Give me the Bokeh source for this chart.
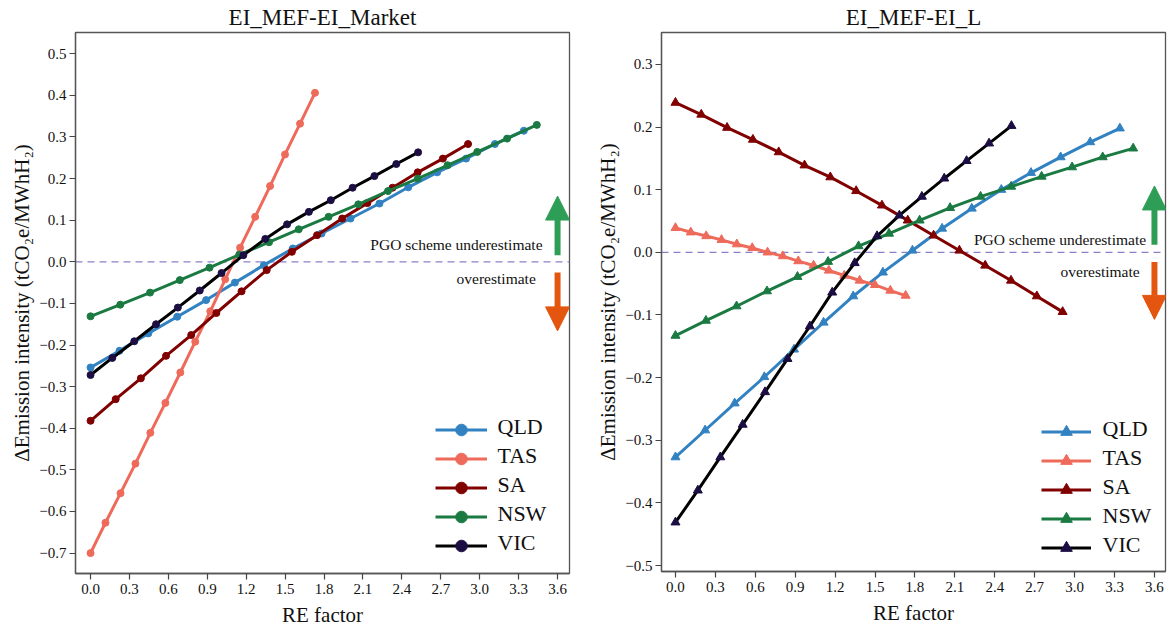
from bokeh.plotting import figure
from bokeh.layouts import row
from bokeh.models import (Range1d, FixedTicker, CustomJSTickFormatter, Span, Label, Title,
                          Arrow, NormalHead, Legend, LegendItem)
from bokeh.embed import file_html
from bokeh.resources import INLINE

FONT = "'Liberation Serif', 'Times New Roman', serif"

# ---------------- data ----------------
series = ["QLD", "TAS", "SA", "NSW", "VIC"]

x_QLD = [0.0, 0.223, 0.445, 0.668, 0.891, 1.113, 1.336, 1.559, 1.781, 2.004, 2.227, 2.449, 2.672, 2.895, 3.117, 3.34]
x_TAS = [0.0, 0.115, 0.231, 0.346, 0.461, 0.577, 0.692, 0.807, 0.923, 1.038, 1.153, 1.269, 1.384, 1.499, 1.615, 1.73]
x_SA = [0.0, 0.194, 0.388, 0.582, 0.776, 0.970, 1.164, 1.358, 1.552, 1.746, 1.940, 2.134, 2.328, 2.522, 2.716, 2.91]
x_NSW = [0.0, 0.229, 0.459, 0.688, 0.917, 1.147, 1.376, 1.605, 1.835, 2.064, 2.293, 2.523, 2.752, 2.981, 3.211, 3.44]
x_VIC = [0.0, 0.168, 0.337, 0.505, 0.673, 0.842, 1.010, 1.178, 1.347, 1.515, 1.683, 1.852, 2.020, 2.188, 2.357, 2.525]

# EI_MEF - EI_Market
mk_QLD = [-0.254, -0.214, -0.172, -0.132, -0.092, -0.050, -0.008, 0.032, 0.068, 0.104, 0.140, 0.179, 0.215, 0.248, 0.283, 0.315]
mk_TAS = [-0.700, -0.627, -0.556, -0.485, -0.411, -0.339, -0.266, -0.192, -0.119, -0.042, 0.034, 0.108, 0.182, 0.258, 0.332, 0.406]
mk_SA = [-0.382, -0.330, -0.280, -0.226, -0.176, -0.123, -0.071, -0.020, 0.024, 0.064, 0.104, 0.141, 0.178, 0.215, 0.248, 0.283]
mk_NSW = [-0.131, -0.103, -0.074, -0.044, -0.014, 0.017, 0.047, 0.078, 0.108, 0.138, 0.170, 0.200, 0.232, 0.264, 0.296, 0.329]
mk_VIC = [-0.272, -0.231, -0.191, -0.150, -0.110, -0.069, -0.027, 0.016, 0.055, 0.090, 0.120, 0.148, 0.178, 0.206, 0.235, 0.263]

# EI_MEF - EI_L
L_QLD = [-0.327, -0.284, -0.241, -0.199, -0.155, -0.112, -0.070, -0.032, 0.003, 0.038, 0.070, 0.100, 0.127, 0.152, 0.176, 0.198]
L_TAS = [0.039, 0.032, 0.026, 0.020, 0.013, 0.007, 0.000, -0.006, -0.014, -0.021, -0.029, -0.037, -0.045, -0.052, -0.061, -0.069]
L_SA = [0.239, 0.220, 0.199, 0.180, 0.160, 0.139, 0.120, 0.098, 0.075, 0.051, 0.027, 0.003, -0.021, -0.045, -0.070, -0.095]
L_NSW = [-0.133, -0.109, -0.086, -0.062, -0.039, -0.015, 0.010, 0.030, 0.051, 0.071, 0.089, 0.105, 0.121, 0.136, 0.152, 0.166]
L_VIC = [-0.431, -0.380, -0.327, -0.275, -0.223, -0.170, -0.118, -0.064, -0.017, 0.026, 0.059, 0.089, 0.118, 0.146, 0.174, 0.202]

x_ticks = [0.0, 0.3, 0.6, 0.9, 1.2, 1.5, 1.8, 2.1, 2.4, 2.7, 3.0, 3.3, 3.6]
y_ticks_market = [-0.7, -0.6, -0.5, -0.4, -0.3, -0.2, -0.1, 0.0, 0.1, 0.2, 0.3, 0.4, 0.5]
y_ticks_L = [-0.5, -0.4, -0.3, -0.2, -0.1, 0.0, 0.1, 0.2, 0.3]

titles = ["EI_MEF-EI_Market", "EI_MEF-EI_L"]
x_label = "RE factor"
y_label = "\u0394Emission intensity (tCO\u2082e/MWhH\u2082)"
note_up = "PGO scheme underestimate"
note_down = "overestimate"

xs = {"QLD": x_QLD, "TAS": x_TAS, "SA": x_SA, "NSW": x_NSW, "VIC": x_VIC}
ys_market = {"QLD": mk_QLD, "TAS": mk_TAS, "SA": mk_SA, "NSW": mk_NSW, "VIC": mk_VIC}
ys_L = {"QLD": L_QLD, "TAS": L_TAS, "SA": L_SA, "NSW": L_NSW, "VIC": L_VIC}

line_colors = {"QLD": "#3282c2", "TAS": "#ee6a5a", "SA": "#800000", "NSW": "#1a7a42", "VIC": "#000000"}
marker_colors = {"QLD": "#3282c2", "TAS": "#ee6a5a", "SA": "#800000", "NSW": "#1a7a42", "VIC": "#1c0e42"}

GREEN_ARROW = "#2e9e57"
ORANGE_ARROW = "#e4560f"
AXIS_COLOR = "#555555"
TEXT_COLOR = "#111111"


def make_panel(title, ys, marker, msize, x_rng, y_rng, y_ticks, frame_w, frame_h,
               borders, leg, arrows, notes):
    x0, x1 = x_rng
    y0, y1 = y_rng
    p = figure(frame_width=frame_w, frame_height=frame_h,
               x_range=Range1d(x0, x1), y_range=Range1d(y0, y1),
               output_backend="svg", toolbar_location=None,
               min_border_left=borders[0], min_border_right=borders[1],
               min_border_top=borders[2], min_border_bottom=borders[3])
    p.title.text = title
    p.title.text_font = FONT
    p.title.text_font_size = "23px"
    p.title.text_font_style = "normal"
    p.title.text_color = TEXT_COLOR
    p.title.align = "center"
    p.title.standoff = 5
    p.grid.visible = False
    p.outline_line_color = AXIS_COLOR
    p.outline_line_width = 1.3
    p.background_fill_color = "white"
    p.border_fill_color = "white"

    for ax, ticks in ((p.xaxis[0], x_ticks), (p.yaxis[0], y_ticks)):
        ax.ticker = FixedTicker(ticks=ticks)
        ax.formatter = CustomJSTickFormatter(code="return tick.toFixed(1).replace('-', '\u2212');")
        ax.major_label_text_font = FONT
        ax.major_label_text_font_size = "15px"
        ax.major_label_text_color = TEXT_COLOR
        ax.minor_tick_line_color = None
        ax.major_tick_in = 0
        ax.major_tick_out = 6
        ax.major_tick_line_color = "#444444"
        ax.major_tick_line_width = 1.2
        ax.axis_line_color = AXIS_COLOR
        ax.axis_line_width = 1.3
    p.xaxis.major_label_standoff = 4
    p.yaxis.major_label_standoff = 3

    # axis titles as Title annotations in the side panels (serif font)
    p.add_layout(Title(text=x_label, align="center", text_font=FONT, text_font_size="21px",
                       text_font_style="normal", text_color=TEXT_COLOR, standoff=9), "below")
    p.add_layout(Title(text=y_label, align="center", text_font=FONT, text_font_size="21px",
                       text_font_style="normal", text_color=TEXT_COLOR, standoff=5), "left")

    p.add_layout(Span(location=0.0, dimension="width", line_color="#8a80c8",
                      line_dash="7 5", line_width=1.2, level="underlay"))

    items = []
    for s in series:
        lr = p.line(xs[s], ys[s], line_color=line_colors[s], line_width=3)
        mr = p.scatter(xs[s], ys[s], marker=marker, size=msize,
                       fill_color=marker_colors[s], line_color=marker_colors[s])
        items.append(LegendItem(label="", renderers=[lr, mr]))

    leg_x, leg_y, glyph_w, standoff = leg
    pad, row_h = 4, 29
    legend = Legend(items=items, location=(leg_x, leg_y), margin=0, padding=pad, spacing=0,
                    glyph_width=glyph_w, glyph_height=row_h, label_height=row_h,
                    label_standoff=0, label_width=0, label_text_font_size="1px",
                    border_line_color=None, background_fill_alpha=0)
    p.add_layout(legend)
    # legend texts (serif), positioned in the legend rows
    tx_px = leg_x + pad + glyph_w + standoff
    n = len(series)
    for i, s in enumerate(series):
        cy_px = leg_y + pad + row_h * (n - 1 - i) + row_h / 2
        tx = x0 + tx_px / frame_w * (x1 - x0)
        ty = y0 + cy_px / frame_h * (y1 - y0)
        p.add_layout(Label(x=tx, y=ty, text=s, text_align="left", text_baseline="middle",
                           text_font=FONT, text_font_size="22px", text_color=TEXT_COLOR))

    (g0, g1), (o0, o1) = arrows
    p.add_layout(Arrow(end=NormalHead(size=24, fill_color=GREEN_ARROW, line_color=GREEN_ARROW),
                       x_start=3.6, y_start=g0, x_end=3.6, y_end=g1,
                       line_color=GREEN_ARROW, line_width=6))
    p.add_layout(Arrow(end=NormalHead(size=24, fill_color=ORANGE_ARROW, line_color=ORANGE_ARROW),
                       x_start=3.6, y_start=o0, x_end=3.6, y_end=o1,
                       line_color=ORANGE_ARROW, line_width=6))
    (ux, uy), (dx, dy) = notes
    p.add_layout(Label(x=ux, y=uy, text=note_up, text_align="right", text_baseline="middle",
                       text_font=FONT, text_font_size="15.5px", text_color=TEXT_COLOR))
    p.add_layout(Label(x=dx, y=dy, text=note_down, text_align="right", text_baseline="middle",
                       text_font=FONT, text_font_size="15.5px", text_color=TEXT_COLOR))
    return p


p1 = make_panel(titles[0], ys_market, "circle", 7, (-0.116, 3.692), (-0.749, 0.551),
                y_ticks_market, 494, 541, (75, 20, 30, 60), (360, 13, 52, 6),
                ((0.016, 0.158), (-0.026, -0.166)), ((3.484, 0.042), (3.432, -0.040)))
p2 = make_panel(titles[1], ys_L, "triangle", 9, (-0.105, 3.683), (-0.5095, 0.351),
                y_ticks_L, 504, 539, (72, 4, 32, 60), (380, 9, 50, 7),
                ((0.012, 0.106), (-0.0155, -0.107)), ((3.537, 0.021), (3.489, -0.030)))

layout = row(p1, p2)
open("out.html", "w").write(file_html(layout, INLINE))
